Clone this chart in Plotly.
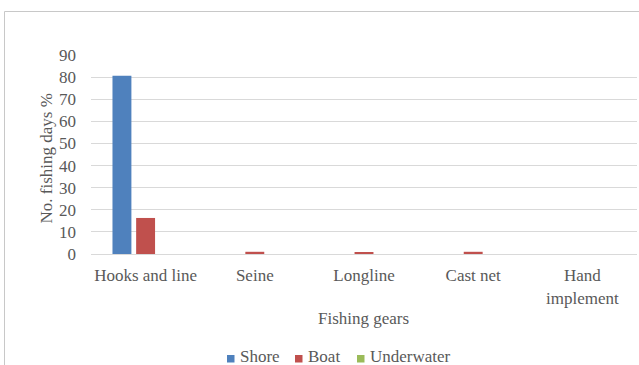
import plotly.graph_objects as go

# Share of fishing days (%) by gear type and fishing mode
gears = ["Hooks and line", "Seine", "Longline", "Cast net", "Hand<br>implement"]
shore = [80.6, 0, 0, 0, 0]
boat = [16.3, 1.0, 0.5, 1.0, 0]
underwater = [0, 0, 0, 0, 0]
y_ticks = [0, 10, 20, 30, 40, 50, 60, 70, 80, 90]

series_names = ["Shore", "Boat", "Underwater"]
series_values = [shore, boat, underwater]
series_colors = ["#4f81bd", "#c0504d", "#9bbb59"]

FONT = "Liberation Serif"
TEXT = "#595959"
GRID = "#d9d9d9"
FS = 17

fig = go.Figure()
for name, vals, color in zip(series_names, series_values, series_colors):
    fig.add_trace(go.Bar(name=name, x=gears, y=vals, marker_color=color,
                         marker_line_width=0))

W, H = 639, 365
L, R, T, B = 91, 2, 55, 111
pw, ph = W - L - R, H - T - B

def px_x(x):
    return (x - L) / pw

def px_y(y):
    return (H - B - y) / ph

annotations = [
    dict(text="No. fishing days %", textangle=-90, xref="paper", yref="paper",
         x=px_x(45.5), y=px_y(159), showarrow=False,
         xanchor="center", yanchor="middle",
         font=dict(family=FONT, size=FS, color=TEXT)),
    dict(text="Fishing gears", xref="paper", yref="paper",
         x=px_x(363), y=px_y(318), showarrow=False,
         xanchor="center", yanchor="middle",
         font=dict(family=FONT, size=FS, color=TEXT)),
]
shapes = [
    dict(type="rect", xref="paper", yref="paper",
         x0=px_x(4.5), x1=px_x(W + 20), y0=px_y(H + 20), y1=px_y(11.5),
         line=dict(color="#c8c8c8", width=1), layer="below"),
]

# Legend row along the bottom: small colour key followed by the series name
key_left = [227, 295, 357]
for name, color, x0 in zip(series_names, series_colors, key_left):
    shapes.append(dict(type="rect", xref="paper", yref="paper",
                       x0=px_x(x0), x1=px_x(x0 + 7.5),
                       y0=px_y(362.5), y1=px_y(355),
                       fillcolor=color, line=dict(width=0)))
    annotations.append(dict(text=name, xref="paper", yref="paper",
                            x=px_x(x0 + 10.5), y=px_y(356), showarrow=False,
                            xanchor="left", yanchor="middle",
                            font=dict(family=FONT, size=FS, color=TEXT)))

fig.update_layout(
    width=W, height=H,
    margin=dict(l=L, r=R, t=T, b=B, autoexpand=False),
    paper_bgcolor="white", plot_bgcolor="white",
    font=dict(family=FONT, size=FS, color=TEXT),
    barmode="group", bargap=0.35, bargroupgap=0.2,
    showlegend=False,
    xaxis=dict(showgrid=False, showline=True, linecolor=GRID, linewidth=1,
               ticks="", tickfont=dict(family=FONT, size=FS, color=TEXT),
               ticklabelstandoff=6, automargin=False),
    yaxis=dict(range=[0, 90], tickvals=y_ticks, showgrid=True, gridcolor=GRID,
               gridwidth=1, zeroline=False, showline=False, ticks="",
               tickfont=dict(family=FONT, size=FS, color=TEXT),
               ticklabelstandoff=14, automargin=False),
    annotations=annotations,
    shapes=shapes,
)

fig.write_html("out.html")
